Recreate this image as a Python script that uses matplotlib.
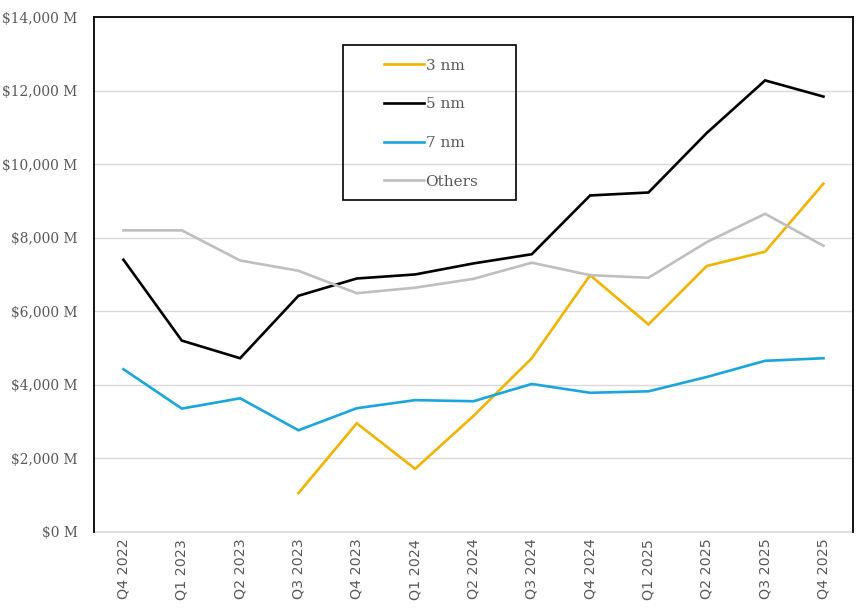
import matplotlib
matplotlib.use("Agg")
import matplotlib.pyplot as plt
from matplotlib.patches import Rectangle
from matplotlib.ticker import FuncFormatter, MultipleLocator
import numpy as np

quarters = ["Q4 2022", "Q1 2023", "Q2 2023", "Q3 2023", "Q4 2023", "Q1 2024",
            "Q2 2024", "Q3 2024", "Q4 2024", "Q1 2025", "Q2 2025", "Q3 2025", "Q4 2025"]
nm3 = [np.nan, np.nan, np.nan, 1050, 2950, 1710, 3150, 4720, 6980, 5640, 7230, 7620, 9470]
nm5 = [7400, 5200, 4720, 6420, 6890, 7000, 7300, 7550, 9150, 9230, 10850, 12280, 11840]
nm7 = [4420, 3350, 3630, 2760, 3360, 3580, 3550, 4020, 3780, 3820, 4210, 4650, 4720]
others = [8200, 8200, 7380, 7100, 6490, 6640, 6880, 7320, 6980, 6910, 7880, 8650, 7780]

series = [("3 nm", nm3, "#F0B400"), ("5 nm", nm5, "#000000"),
          ("7 nm", nm7, "#1AA6DD"), ("Others", others, "#BFBFBF")]

fig = plt.figure(figsize=(8.65, 6.12), dpi=100)
ax = fig.add_axes([94.3/865, 1-531.7/612, (852.6-94.3)/865, (531.7-17.2)/612])

x = np.arange(len(quarters))
handles = []
for name, vals, col in series:
    h, = ax.plot(x, vals, color=col, lw=1.9, label=name, solid_joinstyle="miter", zorder=3)
    handles.append(h)

ax.set_xlim(-0.5, len(quarters) - 0.5)
ax.set_ylim(0, 14000)
ax.yaxis.set_major_locator(MultipleLocator(2000))
ax.yaxis.set_major_formatter(FuncFormatter(lambda v, p: f"${v:,.0f} M"))
ax.grid(axis="y", color="#D9D9D9", lw=1.0, zorder=0)
ax.axhline(0, color="#D9D9D9", lw=1.2, clip_on=False, zorder=1)
ax.set_axisbelow(True)
ax.set_xticks(x)
ax.set_xticklabels(quarters, rotation=90, family="DejaVu Sans", fontsize=10.3, color="#595959")
for lbl in ax.get_yticklabels():
    lbl.set_family("DejaVu Serif")
    lbl.set_fontsize(9.9)
    lbl.set_color("#595959")
ax.tick_params(axis="both", length=0)
ax.tick_params(axis="y", pad=12)
ax.tick_params(axis="x", pad=5)

for s in ["left", "top", "right"]:
    ax.spines[s].set_color("#000000")
    ax.spines[s].set_linewidth(1.3)
ax.spines["bottom"].set_visible(False)

leg = fig.legend(handles=handles, loc="upper left",
                 bbox_to_anchor=(384/865, 1-58.5/612), frameon=False,
                 prop={"family": "DejaVu Serif", "size": 11},
                 handlelength=2.6, handletextpad=0.12, labelspacing=1.62,
                 borderpad=0, borderaxespad=0)
for t in leg.get_texts():
    t.set_color("#595959")

fig.patches.append(Rectangle((343/865, 1-200/612), (516-343)/865, (200-45)/612,
                             transform=fig.transFigure, fill=False,
                             edgecolor="#000000", lw=1.2, zorder=5))

fig.savefig("out.png", dpi=100)
